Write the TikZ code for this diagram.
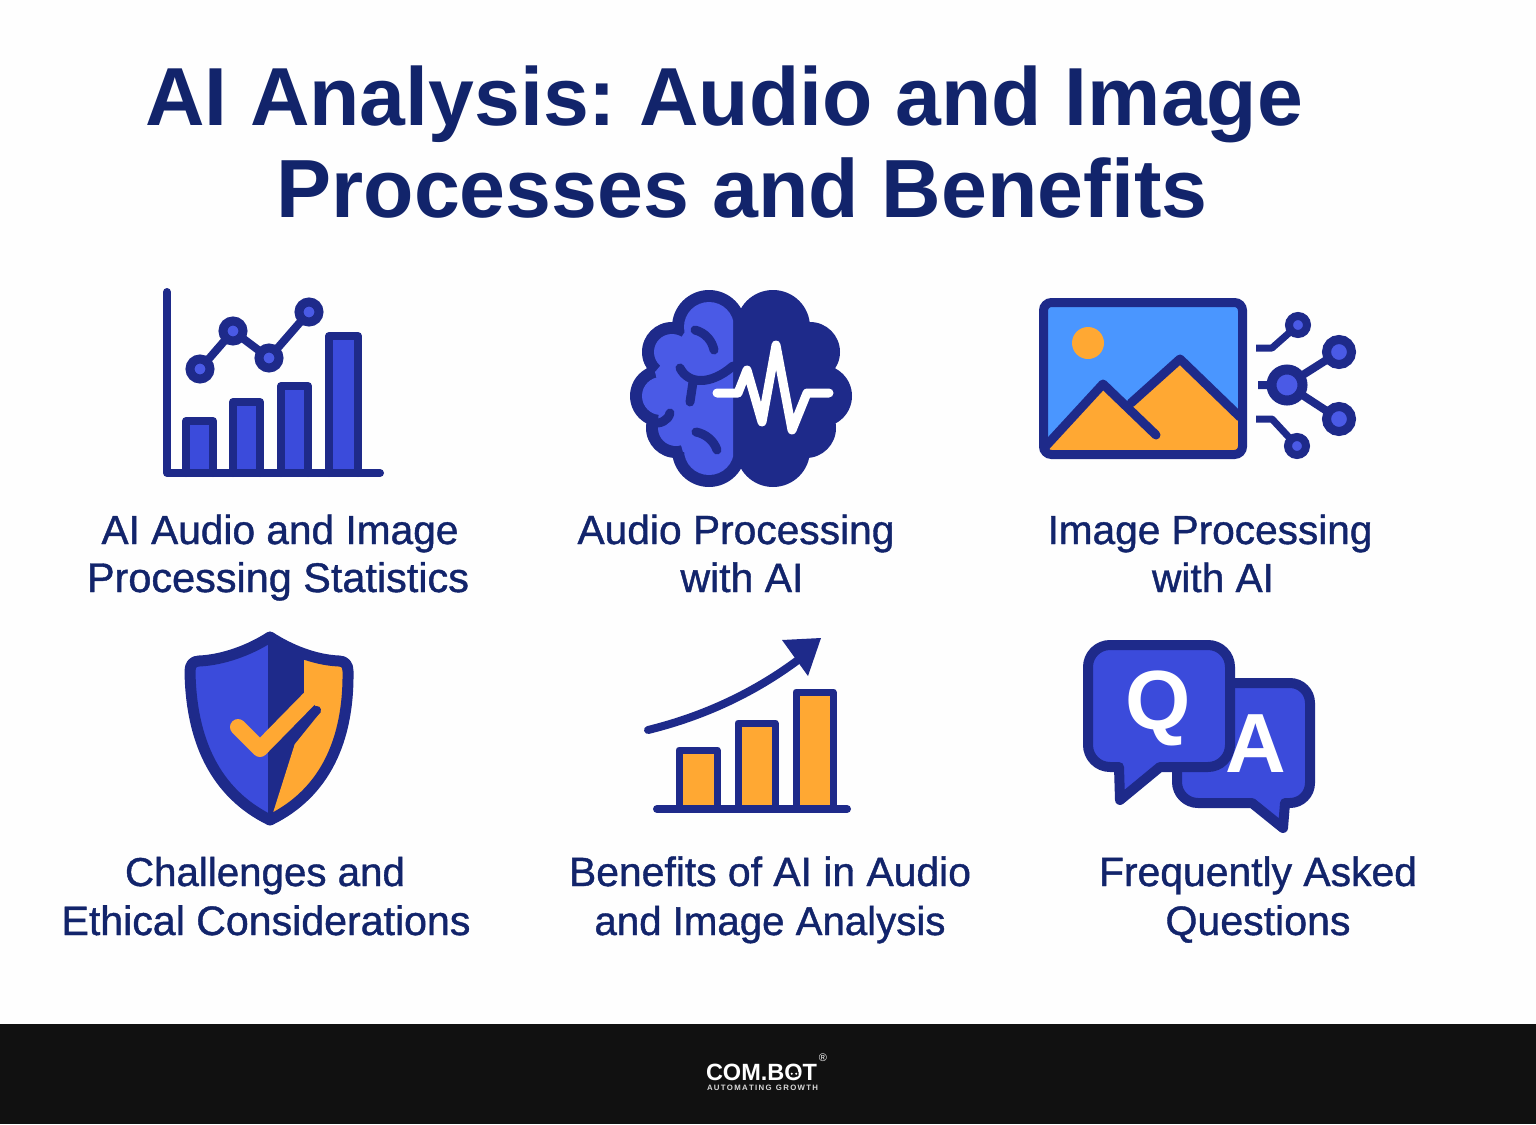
\documentclass[tikz,border=0pt]{standalone}
\usepackage{fontspec}
\usepackage{graphicx}
\setmainfont{Liberation Sans}
\newfontfamily\labfont[FakeBold=1.0]{Liberation Sans}
\frenchspacing
\definecolor{navy}{HTML}{1E2A8A}
\definecolor{royal}{HTML}{3B4BDB}
\definecolor{lite}{HTML}{4A5AE6}
\definecolor{sky}{HTML}{4A96FF}
\definecolor{amber}{HTML}{FFA833}
\definecolor{ink}{HTML}{12246B}
\definecolor{foot}{HTML}{111111}
\definecolor{paper}{HTML}{FEFEFE}
\tikzset{
  lab/.style={anchor=base,inner sep=0pt,text=ink,font=\labfont\fontsize{40}{40}\selectfont},
  tit/.style={anchor=base,inner sep=0pt,text=ink,font=\bfseries\fontsize{84}{84}\selectfont},
  ico/.style={draw=navy,line width=7pt,line join=round,line cap=round},
  nav/.style={draw=navy,line cap=round,line join=round},
  letter/.style={inner sep=0pt,text=white,font=\bfseries\fontsize{84}{84}\selectfont},
}
\newcommand{\lbl}[5]{\node[lab] (#1) at (#2,#3) {\resizebox{#4pt}{!}{#5}};}
\newcommand{\ttl}[5]{\node[tit] (#1) at (#2,#3) {\resizebox{#4pt}{!}{#5}};}
\begin{document}
\begin{tikzpicture}[x=1pt,y=-1pt]
\useasboundingbox (0,0) rectangle (1536,1124);
\fill[paper] (0,0) rectangle (1536,1124);
\fill[foot] (0,1024) rectangle (1536,1124);

% title
\ttl{t1}{724}{125}{1158}{AI Analysis: Audio and Image}
\ttl{t2}{742}{217}{931}{Processes and Benefits}

% chart icon
\foreach \a/\b/\t in {186/213/421,233/260/402,281/308/386,329/358/336}
  \draw[ico,fill=royal,line width=8pt] (\a,473) -- (\a,\t) -- (\b,\t) -- (\b,473);
\draw[ico,line width=8pt] (167,292) -- (167,473) -- (380,473);
\draw[nav,line width=8pt] (200,369) -- (233,331) -- (269,358) -- (309,312);
\foreach \x/\y in {200/369,233/331,269/358,309/312}
  \draw[draw=navy,fill=lite,line width=9pt] (\x,\y) circle (10);

% brain icon
\fill[navy] (773,327) circle (37) (810,352) circle (30) (821,396) circle (31)
  (806,428) circle (30) (773,450) circle (37)
  (709,327) circle (37) (672,352) circle (30) (661,396) circle (31)
  (676,428) circle (30) (709,450) circle (37)
  (709,327) -- (773,327) -- (810,352) -- (821,396) -- (806,428) -- (773,450)
  -- (709,450) -- (676,428) -- (661,396) -- (672,352) -- cycle;
\begin{scope}
  \clip (600,280) rectangle (733,500);
  \fill[lite] (709,327) circle (25) (672,352) circle (18) (661,396) circle (19)
    (676,428) circle (18) (709,450) circle (25)
    (709,327) -- (740,327) -- (740,450) -- (709,450) -- (683,452) -- (676,428) -- (658,420) -- (661,396) -- (655,372) -- (672,352) -- (686,330) -- cycle;
\end{scope}
\draw[nav,line width=9pt] (695,330) .. controls (706,333) and (712,341) .. (714,350);
\draw[nav,line width=9pt] (680,368) .. controls (688,384) and (710,386) .. (733,366);
\draw[nav,line width=9pt] (693,382) -- (690,402);
\draw[nav,line width=9pt] (670,413) .. controls (668,421) and (660,424) .. (652,423);
\draw[nav,line width=9pt] (696,432) .. controls (706,434) and (714,441) .. (717,450);
\draw[white,line width=9pt,line cap=round,line join=round]
  (717,393) -- (738,393) -- (747,370) -- (762,422) -- (776,345) -- (792,430) -- (807,393) -- (829,393);

% picture icon
\fill[sky] (1043,302) rectangle (1243,455);
\fill[amber] (1088,343) circle (16);
\fill[amber] (1045,450) -- (1103,388) -- (1125,407) -- (1180,362) -- (1240,420) -- (1240,450) -- cycle;
\draw[nav,line width=9pt,line join=round] (1131,403) -- (1180,359) -- (1240,417);
\draw[nav,line width=9pt,line join=round,line cap=round] (1045,447) -- (1103,384) -- (1156,435);
\draw[draw=navy,line width=9pt,rounded corners=8pt] (1043.5,302.5) rectangle (1242.5,454.5);
\draw[navy,line width=7pt,line join=round] (1256,348) -- (1272,348) -- (1298,325);
\draw[navy,line width=7pt,line join=round] (1256,419) -- (1272,419) -- (1297,446);
\draw[navy,line width=8pt] (1258,385) -- (1287,385) (1339,352) -- (1287,385) -- (1339,419);
\foreach \x/\y/\r/\w in {1287/385/15.5/10,1339/352/12.5/9,1339/419/12.5/9,1298/325/9/8,1297/446/9/8}
  \draw[draw=navy,fill=lite,line width=\w pt] (\x,\y) circle (\r);

% shield icon
\def\shieldpath{(270,637) .. controls (290,650) and (315,660) .. (339,661)
   .. controls (345,661) and (348,665) .. (348,671)
   .. controls (349,740) and (325,793) .. (270,820)
   .. controls (215,793) and (191,740) .. (190,671)
   .. controls (190,665) and (193,661) .. (199,661)
   .. controls (223,660) and (250,650) .. (270,637) -- cycle}
\fill[navy] \shieldpath;
\begin{scope}
  \clip \shieldpath;
  \fill[royal] (180,625) rectangle (268,830);
  \fill[amber] (304,655) -- (360,655) -- (360,800) -- (272,816) -- (297,737) -- (321,712) -- (304,693) -- cycle;
\end{scope}
\draw[draw=navy,line width=11pt,line join=round] \shieldpath;
\draw[navy,line width=8pt,line cap=round] (292,741) -- (317,710);
\draw[amber,line width=16pt,line cap=round,line join=round] (238,727) -- (260,749) -- (309,699);

% growth icon
\foreach \a/\b/\t in {679/717/750,738/775/723,796/833/692}
  \draw[ico,fill=amber] (\a,809) -- (\a,\t) -- (\b,\t) -- (\b,809);
\draw[ico,line width=8pt] (657,809) -- (847,809);
\draw[nav,line width=8pt] (648,730) .. controls (705,716) and (755,692) .. (798,660);
\fill[navy] (782,640) -- (821,638) -- (808,676) -- cycle;

% QA icon
\draw[draw=navy,fill=royal,line width=10pt,line join=round]
  (1198,683) -- (1290,683) arc[start angle=-90,end angle=0,radius=20]
  -- (1310,783) arc[start angle=0,end angle=90,radius=20]
  -- (1285,803) -- (1283,828) -- (1252,803) -- (1198,803)
  arc[start angle=90,end angle=180,radius=21] -- (1177,704)
  arc[start angle=180,end angle=270,radius=21] -- cycle;
\draw[draw=navy,fill=royal,line width=10pt,line join=round]
  (1110,645) -- (1208,645) arc[start angle=-90,end angle=0,radius=22]
  -- (1230,745) arc[start angle=0,end angle=90,radius=22]
  -- (1160,767) -- (1120,800) -- (1119,767) -- (1110,767)
  arc[start angle=90,end angle=180,radius=22] -- (1088,667)
  arc[start angle=180,end angle=270,radius=22] -- cycle;
\node[letter] (q) at (1158,708) {Q};
\node[letter] (a) at (1256,744) {A};

% labels
\lbl{a1}{280}{544}{357}{AI Audio and Image}
\lbl{a2}{278}{592}{382}{Processing Statistics}
\lbl{b1}{736}{544}{317}{Audio Processing}
\lbl{b2}{742}{592}{123}{with AI}
\lbl{c1}{1210}{544}{325}{Image Processing}
\lbl{c2}{1213}{592}{122}{with AI}
\lbl{d1}{265}{886}{280}{Challenges and}
\lbl{d2}{266}{935}{409}{Ethical Considerations}
\lbl{e1}{770}{886}{402}{Benefits of AI in Audio}
\lbl{e2}{770}{935}{351}{and Image Analysis}
\lbl{f1}{1258}{886}{318}{Frequently Asked}
\lbl{f2}{1258}{935}{185}{Questions}

% logo
\node[anchor=base,inner sep=0pt,text=white,font=\bfseries\fontsize{23}{23}\selectfont] (logo) at (761.5,1080.5) {\resizebox{111pt}{!}{COM.BOT}};
\fill[foot,rounded corners=1pt] (789.5,1071) rectangle (798.5,1076.5);
\fill[white] (791.8,1073.7) circle (1.1) (796.2,1073.7) circle (1.1);
\node[anchor=base,inner sep=0pt,text=white!85!black,font=\bfseries\fontsize{7}{7}\selectfont] (tag) at (762.5,1090.5) {\resizebox{111pt}{!}{A\,U\,T\,O\,M\,A\,T\,I\,N\,G\ \ G\,R\,O\,W\,T\,H}};
\node[inner sep=0pt,text=white,font=\fontsize{11}{11}\selectfont] (reg) at (823,1058) {®};
\end{tikzpicture}
\end{document}
